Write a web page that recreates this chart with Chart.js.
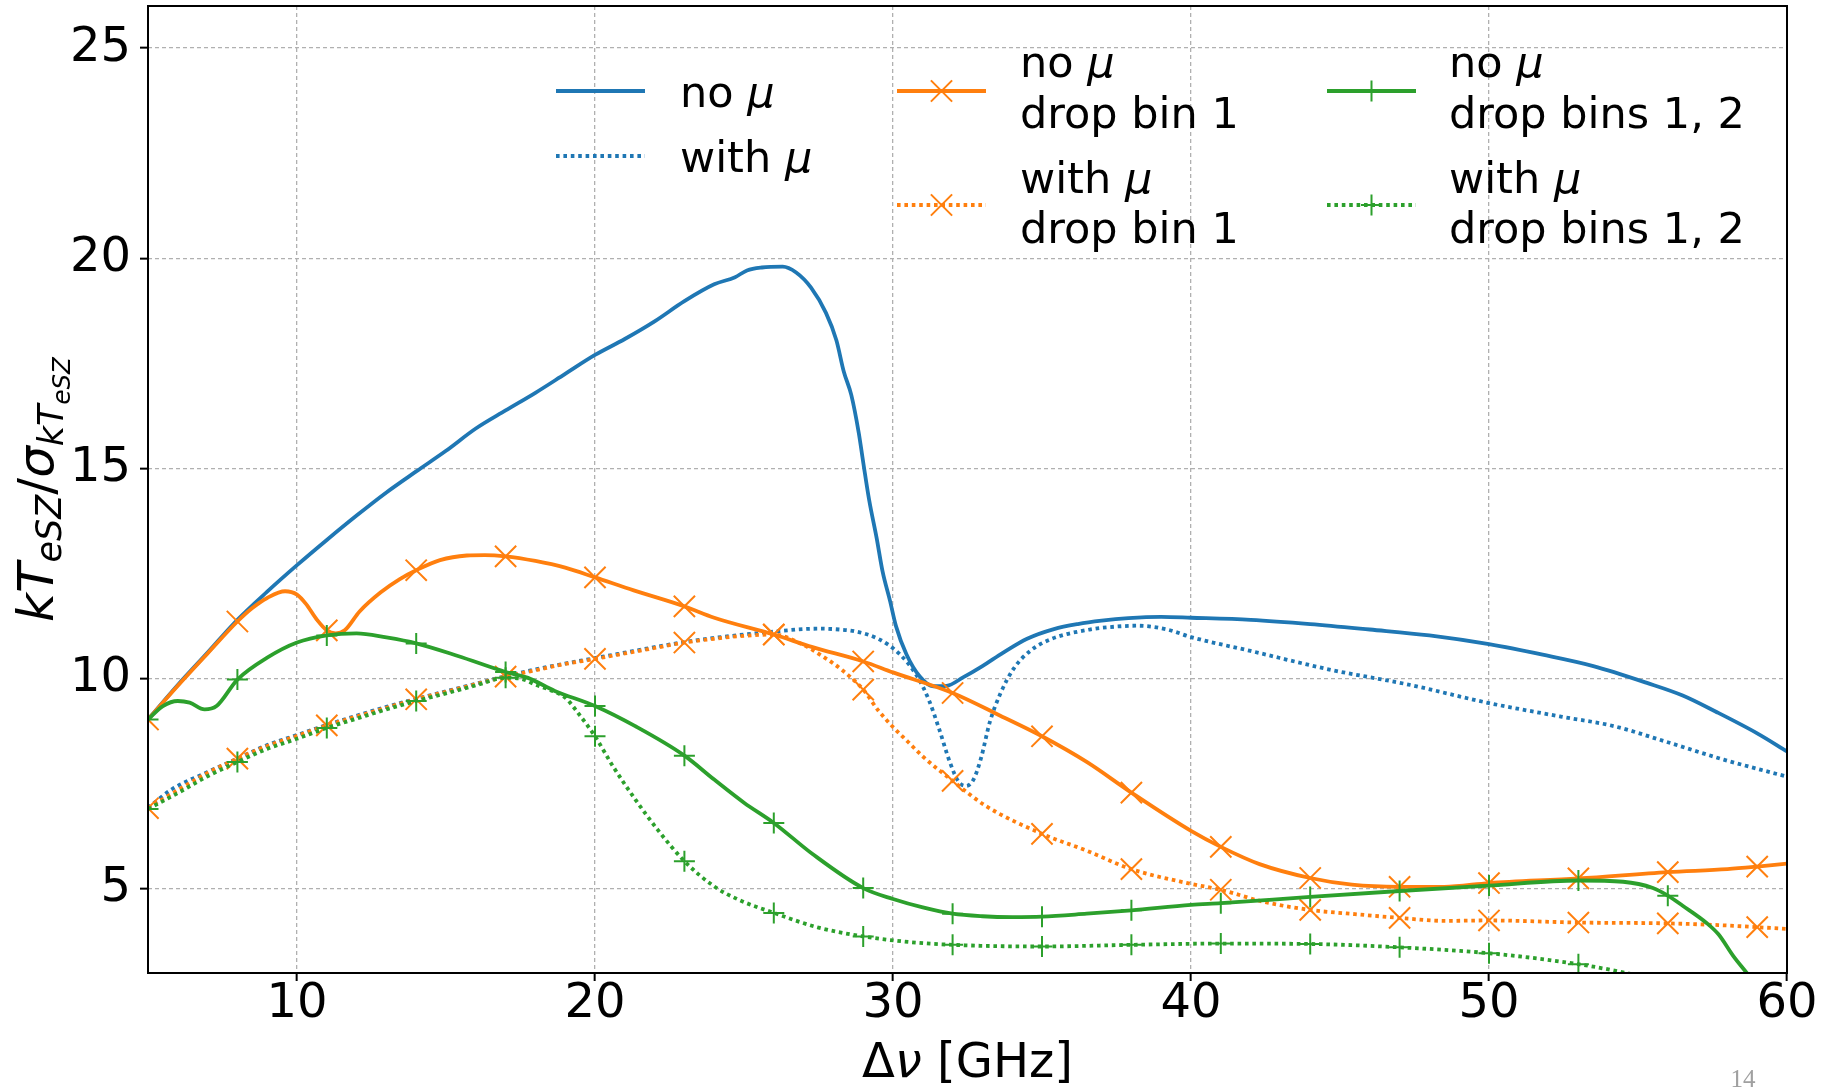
<!DOCTYPE html>
<html>
<head>
<meta charset="utf-8">
<title>kT_eSZ significance vs. bandwidth</title>
<script src="https://cdn.jsdelivr.net/npm/chart.js@4.4.1/dist/chart.umd.min.js"></script>
<style>
  html, body { margin: 0; padding: 0; background: #fff; }
  canvas { display: block; }
</style>
</head>
<body>
<canvas id="snrChart" width="1831" height="1088"></canvas>
<script>
// Δν [GHz] and kT_eSZ / σ(kT_eSZ) for each fit configuration

// no μ
const noMuX = [5, 6, 7, 8, 9, 10, 11, 12, 13, 14, 15, 16, 17, 18, 19, 20, 21, 22, 23, 24,
  24.7, 25.1, 25.6, 26.3, 26.75, 27.25, 27.75, 28.1, 28.35, 28.6,
  28.85, 29, 29.2, 29.45, 29.65, 29.9, 30.1, 30.45, 30.9, 31.35,
  31.8, 32.35, 33, 33.7, 34.5, 35.4, 36.2, 37, 37.9, 39,
  40, 42, 44, 46, 48, 50, 51.8, 53.5, 55.3, 56.5, 57.6, 59, 60];
const noMuY = [9.03, 9.85, 10.62, 11.4, 12.07, 12.7, 13.3, 13.88, 14.43, 14.93, 15.42, 15.95, 16.38, 16.8, 17.25, 17.7, 18.08, 18.5, 18.98, 19.38,
  19.55, 19.71, 19.78, 19.8, 19.66, 19.3, 18.7, 18.05, 17.3, 16.75,
  15.85, 15.15, 14.25, 13.35, 12.55, 11.85, 11.25, 10.58, 10.05, 9.82,
  9.83, 10.03, 10.3, 10.62, 10.95, 11.18, 11.3, 11.38, 11.44, 11.47,
  11.45, 11.4, 11.3, 11.17, 11.03, 10.82, 10.57, 10.3, 9.9, 9.6, 9.22, 8.7, 8.27];

// with μ
const withMuX = [5, 5.8, 7, 8, 9, 10, 11, 12, 13, 14, 15, 16, 17, 18, 19, 20, 21, 22, 23, 24, 25, 26, 27,
  27.6, 28.2, 28.7, 29.5, 30.2, 30.8, 31.2, 31.55, 31.9, 32.2,
  32.45, 32.7, 32.95, 33.25, 33.6, 34.05, 34.6, 35.3, 36.6, 37.5,
  38.2, 39.2, 40, 42, 44.7, 47.3, 50, 52.4, 54.2, 55.9, 57.9, 60];
const withMuY = [6.93, 7.37, 7.78, 8.1, 8.42, 8.66, 8.9, 9.12, 9.33, 9.52, 9.7, 9.88, 10.06, 10.22, 10.36, 10.49, 10.62, 10.75, 10.87, 10.97, 11.05, 11.12, 11.18,
  11.19, 11.17, 11.13, 10.95, 10.6, 10.07, 9.5, 8.8, 8.03, 7.55,
  7.45, 7.6, 8.1, 8.97, 9.64, 10.24, 10.66, 10.94, 11.17, 11.24,
  11.26, 11.17, 10.99, 10.66, 10.21, 9.86, 9.42, 9.1, 8.87, 8.51, 8.07, 7.67];

// no μ, drop bin 1
const noMuDrop1X = [5, 6, 7, 8, 8.5, 9, 9.6, 10, 10.3, 10.65, 11, 11.3, 11.6, 12.1,
  12.8, 13.45, 14, 14.8, 15.7, 16.3, 17, 18, 19, 20,
  21.3, 23, 24, 26, 27.3, 29, 30, 32, 33.6, 35,
  36.5, 38, 40, 41, 42.3, 44, 45.4, 47, 48.5, 50,
  53, 56, 58, 59, 60];
const noMuDrop1Y = [9.03, 9.83, 10.6, 11.36, 11.68, 11.92, 12.08, 12.0, 11.78, 11.42, 11.15, 11.08, 11.15, 11.6,
  12.05, 12.37, 12.58, 12.82, 12.93, 12.94, 12.91, 12.8, 12.64, 12.41,
  12.1, 11.72, 11.45, 11.05, 10.75, 10.41, 10.15, 9.66, 9.12, 8.63,
  8.02, 7.29, 6.38, 6.0, 5.59, 5.26, 5.1, 5.05, 5.05, 5.14,
  5.25, 5.4, 5.47, 5.53, 5.6];

// with μ, drop bin 1
const withMuDrop1X = [5, 6, 7, 8, 9, 10, 11, 12, 13, 14, 15, 16, 17, 18, 19, 20, 21, 22, 23, 24, 25, 26, 27,
  27.6, 28.3, 29, 29.5, 30, 30.5, 31, 32, 33.1, 35,
  36.5, 38, 40, 41, 42.4, 44, 45.5, 47, 48.5, 50,
  53, 56, 58, 59, 60];
const withMuDrop1Y = [6.92, 7.35, 7.76, 8.1, 8.4, 8.64, 8.89, 9.1, 9.31, 9.51, 9.69, 9.87, 10.05, 10.2, 10.35, 10.47, 10.6, 10.73, 10.86, 10.95, 11.02, 11.05, 10.8,
  10.55, 10.2, 9.74, 9.25, 8.85, 8.5, 8.15, 7.57, 6.98, 6.31,
  5.91, 5.47, 5.12, 4.98, 4.7, 4.5, 4.4, 4.31, 4.24, 4.25,
  4.2, 4.18, 4.13, 4.09, 4.05];

// no μ, drop bins 1, 2
const noMuDrop12X = [5, 5.5, 6, 6.4, 6.9, 7.3, 8, 9, 10, 11,
  12, 13, 14, 15.4, 17, 17.75, 18.65, 20, 21.35, 23,
  24, 25, 26, 27.3, 29, 30, 31, 32, 33, 34,
  35, 36.5, 38, 40, 41, 44, 47, 50, 53, 54.5,
  55.5, 56, 56.5, 57.3, 57.7, 58.2, 58.65, 59.2];
const noMuDrop12Y = [9.03, 9.35, 9.47, 9.43, 9.27, 9.35, 9.98, 10.5, 10.86, 11.03,
  11.08, 10.98, 10.84, 10.54, 10.16, 10.02, 9.71, 9.35, 8.87, 8.17,
  7.6, 7.05, 6.57, 5.83, 5.02, 4.76, 4.56, 4.41, 4.35, 4.33,
  4.34, 4.41, 4.49, 4.62, 4.66, 4.81, 4.95, 5.08, 5.2, 5.17,
  5.02, 4.84, 4.6, 4.19, 3.92, 3.4, 3.0, 2.5];

// with μ, drop bins 1, 2
const withMuDrop12X = [5, 6, 7, 8, 9, 10, 11, 12, 13, 14, 15, 16, 17,
  17.5, 18, 18.6, 19, 19.5, 20, 20.6, 21.35, 22.1, 23,
  24, 24.8, 26, 27.5, 29, 30.5, 32, 35, 38, 41,
  44, 47, 50, 53, 54.6, 55.5];
const withMuDrop12Y = [6.9, 7.28, 7.68, 8.02, 8.33, 8.57, 8.83, 9.05, 9.27, 9.47, 9.65, 9.84, 10.02,
  10.0, 9.86, 9.7, 9.55, 9.12, 8.63, 7.92, 7.13, 6.41, 5.66,
  5.06, 4.75, 4.43, 4.08, 3.87, 3.74, 3.67, 3.63, 3.67, 3.7,
  3.69, 3.61, 3.47, 3.21, 3.0, 2.85];

// markers every 3 GHz
const MARK_X = [5, 8, 11, 14, 17, 20, 23, 26, 29, 32, 35, 38, 41, 44, 47, 50, 53, 56, 59];
const X_TICKS = [10, 20, 30, 40, 50, 60];
const Y_TICKS = [5, 10, 15, 20, 25];

const BLUE = '#1f77b4';
const ORANGE = '#ff7f0e';
const GREEN = '#2ca02c';
const FONT = '"DejaVu Sans", sans-serif';
const LINE_W = 3.8;
const DOTS = [3.6, 3.8];

function toPoints(xs, ys) {
  return xs.map((x, i) => ({ x: x, y: ys[i] }));
}

function makeSet(label, xs, ys, color, dotted, marker, order) {
  return {
    label: label,
    data: toPoints(xs, ys),
    borderColor: color,
    backgroundColor: color,
    borderWidth: LINE_W,
    borderDash: dotted ? DOTS : [],
    borderJoinStyle: 'round',
    cubicInterpolationMode: 'monotone',
    fill: false,
    marker: marker,
    pointStyle: marker ? marker.style : 'circle',
    pointRadius: ctx => (marker && ctx.raw && MARK_X.includes(ctx.raw.x)) ? marker.r : 0,
    pointHoverRadius: 0,
    pointBorderColor: color,
    pointBackgroundColor: color,
    pointBorderWidth: 2,
    order: order
  };
}

const X_MARK = { style: 'crossRot', r: 15 };
const PLUS_MARK = { style: 'cross', r: 10.5 };

const datasets = [
  makeSet('no μ', noMuX, noMuY, BLUE, false, null, 6),
  makeSet('with μ', withMuX, withMuY, BLUE, true, null, 5),
  makeSet('no μ drop bin 1', noMuDrop1X, noMuDrop1Y, ORANGE, false, X_MARK, 4),
  makeSet('with μ drop bin 1', withMuDrop1X, withMuDrop1Y, ORANGE, true, X_MARK, 3),
  makeSet('no μ drop bins 1, 2', noMuDrop12X, noMuDrop12Y, GREEN, false, PLUS_MARK, 2),
  makeSet('with μ drop bins 1, 2', withMuDrop12X, withMuDrop12Y, GREEN, true, PLUS_MARK, 1)
];

// rich text: list of [text, italic] pairs
function drawRuns(ctx, runs, x, y, size) {
  for (const [t, it] of runs) {
    ctx.font = (it ? 'italic ' : '') + size + 'px ' + FONT;
    ctx.fillText(t, x, y);
    x += ctx.measureText(t).width;
  }
}

function runsWidth(ctx, runs, size) {
  let w = 0;
  for (const [t, it] of runs) {
    ctx.font = (it ? 'italic ' : '') + size + 'px ' + FONT;
    w += ctx.measureText(t).width;
  }
  return w;
}

function drawMarker(ctx, style, r, x, y) {
  ctx.beginPath();
  if (style === 'cross') {
    ctx.moveTo(x - r, y); ctx.lineTo(x + r, y);
    ctx.moveTo(x, y - r); ctx.lineTo(x, y + r);
  } else {
    const d = r * Math.SQRT1_2;
    ctx.moveTo(x - d, y - d); ctx.lineTo(x + d, y + d);
    ctx.moveTo(x + d, y - d); ctx.lineTo(x - d, y + d);
  }
  ctx.stroke();
}

const NO_MU = [['no ', false], ['μ', true]];
const WITH_MU = [['with ', false], ['μ', true]];
const LEGEND_FONT = 43;
const HANDLE_LEN = 89;

// three columns, two entries each
const legendItems = [
  { set: 0, x: 556, y: 91, tx: 680, lines: [[107, NO_MU]] },
  { set: 1, x: 556, y: 156, tx: 680, lines: [[172, WITH_MU]] },
  { set: 2, x: 897, y: 91, tx: 1020, lines: [[77, NO_MU], [128, [['drop bin 1', false]]]] },
  { set: 3, x: 897, y: 205, tx: 1020, lines: [[193, WITH_MU], [243, [['drop bin 1', false]]]] },
  { set: 4, x: 1327, y: 91, tx: 1449, lines: [[77, NO_MU], [128, [['drop bins 1, 2', false]]]] },
  { set: 5, x: 1327, y: 205, tx: 1449, lines: [[193, WITH_MU], [243, [['drop bins 1, 2', false]]]] }
];

const legendBlock = {
  id: 'legendBlock',
  afterDraw(chart) {
    const ctx = chart.ctx;
    ctx.save();
    for (const item of legendItems) {
      const ds = chart.data.datasets[item.set];
      ctx.strokeStyle = ds.borderColor;
      ctx.lineWidth = ds.borderWidth;
      ctx.lineCap = 'butt';
      ctx.setLineDash(ds.borderDash);
      ctx.beginPath();
      ctx.moveTo(item.x, item.y);
      ctx.lineTo(item.x + HANDLE_LEN, item.y);
      ctx.stroke();
      if (ds.marker) {
        ctx.setLineDash([]);
        ctx.lineWidth = ds.pointBorderWidth;
        drawMarker(ctx, ds.marker.style, ds.marker.r, item.x + HANDLE_LEN / 2, item.y);
      }
      ctx.fillStyle = '#000';
      ctx.textBaseline = 'alphabetic';
      ctx.textAlign = 'left';
      for (const [by, runs] of item.lines) {
        drawRuns(ctx, runs, item.tx, by, LEGEND_FONT);
      }
    }
    ctx.restore();
  }
};

// axis spines on all four sides
const axisFrame = {
  id: 'axisFrame',
  afterDatasetsDraw(chart) {
    const { ctx, chartArea: a } = chart;
    ctx.save();
    ctx.strokeStyle = '#000';
    ctx.lineWidth = 2;
    ctx.setLineDash([]);
    ctx.strokeRect(a.left, a.top, a.right - a.left, a.bottom - a.top);
    ctx.restore();
  }
};

// axis titles with math-style subscripts, plus page number
const axisTitles = {
  id: 'axisTitles',
  afterDraw(chart) {
    const { ctx, chartArea: a } = chart;
    ctx.save();
    ctx.fillStyle = '#000';
    ctx.textBaseline = 'alphabetic';
    ctx.textAlign = 'left';

    // x title: Δν [GHz]
    const xRuns = [['Δ', false], ['ν', true], [' [GHz]', false]];
    const xw = runsWidth(ctx, xRuns, 48);
    drawRuns(ctx, xRuns, (a.left + a.right) / 2 - xw / 2, 1077, 48);

    // y title: kT_eSZ / σ_{kT_eSZ}
    const yRuns = [
      { t: 'kT', s: 50, it: true, dy: 0 },
      { t: 'eSZ', s: 35, it: true, dy: 8 },
      { t: '/', s: 50, it: false, dy: 0 },
      { t: 'σ', s: 50, it: true, dy: 0 },
      { t: 'kT', s: 35, it: true, dy: 10 },
      { t: 'eSZ', s: 24.5, it: true, dy: 17 }
    ];
    let yw = 0;
    for (const r of yRuns) {
      ctx.font = (r.it ? 'italic ' : '') + r.s + 'px ' + FONT;
      yw += ctx.measureText(r.t).width;
    }
    ctx.translate(53, (a.top + a.bottom) / 2);
    ctx.rotate(-Math.PI / 2);
    let px = -yw / 2;
    for (const r of yRuns) {
      ctx.font = (r.it ? 'italic ' : '') + r.s + 'px ' + FONT;
      ctx.fillText(r.t, px, r.dy);
      px += ctx.measureText(r.t).width;
    }
    ctx.setTransform(1, 0, 0, 1, 0, 0);

    ctx.fillStyle = '#a0a0a0';
    ctx.textAlign = 'center';
    ctx.font = '25px "Liberation Serif", serif';
    ctx.fillText('14', 1743, 1087);
    ctx.restore();
  }
};

const tickFont = { family: FONT, size: 48, lineHeight: 1 };

new Chart(document.getElementById('snrChart'), {
  type: 'line',
  data: { datasets: datasets },
  options: {
    responsive: false,
    animation: false,
    events: [],
    layout: { autoPadding: false, padding: { left: 0, right: 44, top: 6, bottom: 0 } },
    plugins: {
      legend: { display: false },
      tooltip: { enabled: false },
      title: { display: false }
    },
    scales: {
      x: {
        type: 'linear',
        min: 5,
        max: 60,
        afterBuildTicks: scale => { scale.ticks = X_TICKS.map(v => ({ value: v })); },
        afterFit: scale => { scale.height = 115; scale.paddingLeft = 0; scale.paddingRight = 0; },
        ticks: { font: tickFont, color: '#000', padding: 0, maxRotation: 0, autoSkip: false },
        grid: { color: '#b0b0b0', lineWidth: 1.3, drawTicks: true, tickLength: 8, tickColor: '#000', tickWidth: 2 },
        border: { display: false, dash: [4, 3] }
      },
      y: {
        type: 'linear',
        min: 3,
        max: 26,
        afterBuildTicks: scale => { scale.ticks = Y_TICKS.map(v => ({ value: v })); },
        afterFit: scale => { scale.width = 148; scale.paddingTop = 0; scale.paddingBottom = 0; },
        ticks: { font: tickFont, color: '#000', padding: 9, autoSkip: false },
        grid: { color: '#b0b0b0', lineWidth: 1.3, drawTicks: true, tickLength: 8, tickColor: '#000', tickWidth: 2 },
        border: { display: false, dash: [4, 3] }
      }
    }
  },
  plugins: [axisFrame, legendBlock, axisTitles]
});
</script>
</body>
</html>
